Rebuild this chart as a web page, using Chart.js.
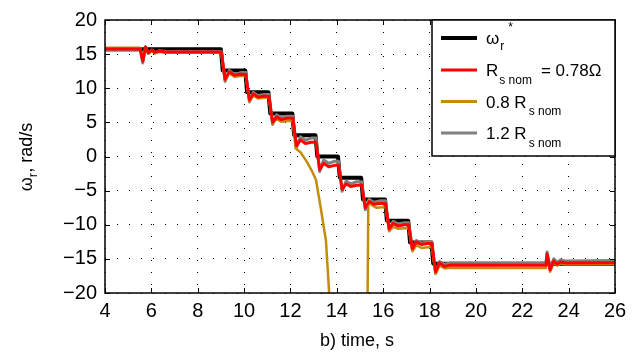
<!DOCTYPE html>
<html>
<head>
<meta charset="utf-8">
<script src="https://cdn.jsdelivr.net/npm/chart.js@4.4.1/dist/chart.umd.min.js"></script>
<style>
html, body { margin: 0; padding: 0; background: #fff; }
canvas { display: block; }
</style>
</head>
<body>
<canvas id="chart" width="643" height="356"></canvas>
<script>
/* speed response for several stator resistance values */
const xTicks = [4, 6, 8, 10, 12, 14, 16, 18, 20, 22, 24, 26];
const yTicks = [-20, -15, -10, -5, 0, 5, 10, 15, 20];

// reference speed w_r*
const tRef = [4, 9.0, 9.08, 10.05, 10.13, 11.05, 11.13, 12.08, 12.16, 13.08, 13.16, 14.05, 14.13,
	15.05, 15.13, 16.08, 16.16, 17.08, 17.16, 18.08, 18.16, 26];
const wRef = [15.7, 15.7, 12.6, 12.6, 9.4, 9.4, 6.3, 6.3, 3.1, 3.1, 0, 0, -3.1,
	-3.1, -6.3, -6.3, -9.4, -9.4, -12.6, -12.6, -15.7, -15.7];

// Rs nom = 0.78 ohm
const tNom = [4, 5.52, 5.63, 5.75, 5.87, 6.01, 6.16, 6.35, 6.6,
	9.02, 9.18, 9.36, 9.58, 9.85, 10.07, 10.23, 10.4, 10.6, 10.85,
	11.07, 11.23, 11.4, 11.6, 11.85, 12.1, 12.26, 12.43, 12.65, 12.9,
	13.1, 13.26, 13.43, 13.65, 13.9, 14.07, 14.23, 14.4, 14.6, 14.85,
	15.07, 15.23, 15.4, 15.6, 15.85, 16.1, 16.26, 16.43, 16.65, 16.9,
	17.1, 17.26, 17.43, 17.65, 17.9, 18.1, 18.26, 18.43, 18.65, 18.9,
	23.02, 23.07, 23.2, 23.36, 23.5, 23.65, 23.85, 26];
const wNom = [15.75, 15.75, 14.0, 16.0, 15.2, 15.6, 15.25, 15.45, 15.3,
	15.3, 11.3, 12.4, 11.9, 12.05, 12.0, 8.3, 9.2, 8.7, 8.85,
	8.8, 5.0, 5.8, 5.4, 5.6, 5.6, 1.6, 2.4, 1.9, 2.1,
	2.1, -1.9, -1.0, -1.5, -1.3, -1.3, -4.8, -4.0, -4.4, -4.2,
	-4.2, -7.5, -6.6, -7.0, -6.9, -6.9, -10.6, -9.8, -10.2, -10.0,
	-10.0, -13.5, -12.5, -12.9, -12.75, -12.75, -16.9, -15.6, -16.1, -15.9,
	-15.95, -14.3, -16.6, -15.3, -15.8, -15.45, -15.6, -15.55];

// 0.8 Rs nom (loses control between 12 s and 15.3 s)
const tLow = [4, 5.52, 5.63, 5.75, 5.87, 6.01, 6.16, 6.35, 6.6,
	9.02, 9.18, 9.36, 9.58, 9.85, 10.07, 10.23, 10.4, 10.6, 10.85,
	11.07, 11.23, 11.4, 11.6, 11.85, 12.1, 12.22, 12.44, 12.73, 12.95,
	13.1, 13.3, 13.53, 13.67, 13.75, 14.5, 15.28, 15.36, 15.5, 15.7,
	16.1, 16.26, 16.43, 16.65, 16.9, 17.1, 17.26, 17.43, 17.65, 17.9,
	18.1, 18.26, 18.43, 18.65, 18.9, 23.02, 23.07, 23.2, 23.36, 23.5,
	23.65, 23.85, 26];
const wLow = [15.95, 15.95, 14.1, 15.9, 15.1, 15.5, 15.1, 15.35, 15.2,
	15.2, 11.2, 12.2, 11.7, 11.8, 11.8, 8.1, 8.9, 8.5, 8.6,
	8.6, 4.8, 5.5, 5.1, 5.2, 5.2, 1.2, 0.6, -0.9, -2.3,
	-3.4, -7.4, -12.3, -20, -26, null, -40, -6.4, -7.1, -7.5,
	-7.4, -10.9, -10.3, -10.6, -10.5, -10.5, -13.9, -13.0, -13.4, -13.3,
	-13.3, -17.2, -16.0, -16.4, -16.3, -16.35, -14.7, -16.9, -15.5, -16.0,
	-15.65, -15.8, -15.75];

// 1.2 Rs nom
const tHigh = tNom;
const wHigh = [15.6, 15.6, 13.7, 16.1, 15.1, 15.6, 15.2, 15.5, 15.4,
	15.4, 11.0, 12.6, 12.0, 12.3, 12.3, 8.0, 9.4, 8.9, 9.1,
	9.1, 4.7, 6.1, 5.7, 5.9, 5.9, 1.3, 2.9, 2.4, 2.7,
	2.7, -2.2, -0.5, -1.0, -0.7, -0.7, -5.1, -3.6, -4.0, -3.7,
	-3.7, -7.8, -6.3, -6.7, -6.5, -6.5, -10.9, -9.5, -9.9, -9.7,
	-9.7, -13.7, -12.3, -12.7, -12.5, -12.5, -17.1, -15.4, -15.8, -15.6,
	-15.6, -14.0, -16.3, -15.0, -15.5, -15.15, -15.3, -15.25];

const FONT = '"Liberation Sans", Arial, Helvetica, sans-serif';
const GOLD = '#c48c0c';

function pts(ts, ws) {
	return ts.map((t, i) => ({ x: t, y: ws[i] }));
}

function series(label, ts, ws, color, width, order) {
	return {
		label,
		data: pts(ts, ws),
		borderColor: color,
		borderWidth: width,
		borderJoinStyle: 'round',
		borderCapStyle: 'round',
		pointRadius: 0,
		tension: 0,
		spanGaps: false,
		clip: 0,
		order,
	};
}

function text(ctx, s, x, y, size) {
	ctx.font = size + 'px ' + FONT;
	ctx.fillText(s, x, y);
	return x + ctx.measureText(s).width;
}

const decor = {
	id: 'decor',
	afterDraw(chart) {
		const { ctx, chartArea: a, scales } = chart;
		ctx.save();
		ctx.strokeStyle = '#000';
		ctx.lineWidth = 1;
		// inward ticks
		ctx.beginPath();
		xTicks.forEach((v) => {
			const px = Math.round(scales.x.getPixelForValue(v)) + 0.5;
			ctx.moveTo(px, a.bottom); ctx.lineTo(px, a.bottom - 5);
			ctx.moveTo(px, a.top); ctx.lineTo(px, a.top + 5);
		});
		yTicks.forEach((v) => {
			const py = Math.round(scales.y.getPixelForValue(v)) + 0.5;
			ctx.moveTo(a.left, py); ctx.lineTo(a.left + 5, py);
			ctx.moveTo(a.right, py); ctx.lineTo(a.right - 5, py);
		});
		ctx.stroke();
		// box
		ctx.lineWidth = 1.5;
		ctx.strokeRect(a.left, a.top, a.right - a.left, a.bottom - a.top);

		// legend
		const lx = 432, ly = a.top, lw = a.right - lx, lh = 136;
		ctx.fillStyle = '#fff';
		ctx.fillRect(lx, ly, lw, lh);
		ctx.strokeRect(lx, ly, lw, lh);
		const rows = [
			{ y: 38, color: '#000', w: 4 },
			{ y: 70, color: '#ff0000', w: 3 },
			{ y: 101.5, color: GOLD, w: 3 },
			{ y: 133, color: '#808080', w: 3 },
		];
		rows.forEach((r) => {
			ctx.strokeStyle = r.color;
			ctx.lineWidth = r.w;
			ctx.beginPath();
			ctx.moveTo(441, r.y);
			ctx.lineTo(477, r.y);
			ctx.stroke();
		});
		ctx.fillStyle = '#000';
		ctx.textBaseline = 'alphabetic';
		ctx.textAlign = 'left';
		let x = text(ctx, 'ω', 486, 43.5, 17);
		text(ctx, 'r', x + 1, 50, 12);
		text(ctx, '*', x + 9, 31, 12);
		x = text(ctx, 'R', 486, 76, 17);
		x = text(ctx, 's nom', x + 1, 83.5, 12);
		text(ctx, '= 0.78Ω', x + 9, 76, 17);
		x = text(ctx, '0.8 R', 486, 107.5, 17);
		text(ctx, 's nom', x + 2, 115, 12);
		x = text(ctx, '1.2 R', 486, 139, 17);
		text(ctx, 's nom', x + 2, 146.5, 12);

		// x title
		ctx.textAlign = 'center';
		text(ctx, 'b) time, s', (a.left + a.right) / 2 - 3, 346, 18);

		// y title (rotated)
		ctx.textAlign = 'left';
		ctx.font = '18px ' + FONT;
		const w1 = ctx.measureText('ω').width;
		const w3 = ctx.measureText(', rad/s').width;
		ctx.font = '13px ' + FONT;
		const w2 = ctx.measureText('r').width;
		ctx.translate(32, 157);
		ctx.rotate(-Math.PI / 2);
		let sx = -(w1 + w2 + w3) / 2;
		sx = text(ctx, 'ω', sx, 0, 18);
		sx = text(ctx, 'r', sx, 5, 13);
		text(ctx, ', rad/s', sx, 0, 18);
		ctx.restore();
	},
};

const tickFont = { family: FONT, size: 20 };
const minus = (v) => String(v).replace('-', '\u2212');

new Chart(document.getElementById('chart').getContext('2d'), {
	type: 'line',
	data: {
		datasets: [
			series('ωr*', tRef, wRef, '#000', 4, 3),
			series('Rs nom = 0.78Ω', tNom, wNom, '#ff0000', 3, 0),
			series('0.8 Rs nom', tLow, wLow, GOLD, 2.5, 1),
			series('1.2 Rs nom', tHigh, wHigh, '#808080', 3, 2),
		],
	},
	options: {
		responsive: false,
		animation: false,
		devicePixelRatio: 1,
		layout: { padding: { left: 0, right: 28, top: 17, bottom: 0 } },
		plugins: { legend: { display: false }, tooltip: { enabled: false } },
		scales: {
			x: {
				type: 'linear',
				min: 4,
				max: 26,
				afterFit(scale) { scale.height = 63; },
				afterBuildTicks(scale) { scale.ticks = xTicks.map((v) => ({ value: v })); },
				grid: { color: '#000', lineWidth: 1, drawTicks: false },
				border: { display: false, dash: [1, 11] },
				ticks: { font: tickFont, color: '#000', padding: 6, maxRotation: 0, autoSkip: false, callback: minus },
			},
			y: {
				type: 'linear',
				min: -20,
				max: 20,
				afterFit(scale) { scale.width = 105; },
				afterBuildTicks(scale) { scale.ticks = yTicks.map((v) => ({ value: v })); },
				grid: { color: '#000', lineWidth: 1, drawTicks: false },
				border: { display: false, dash: [1, 11] },
				ticks: { font: tickFont, color: '#000', padding: 8, autoSkip: false, callback: minus },
			},
		},
	},
	plugins: [decor],
});
</script>
</body>
</html>
